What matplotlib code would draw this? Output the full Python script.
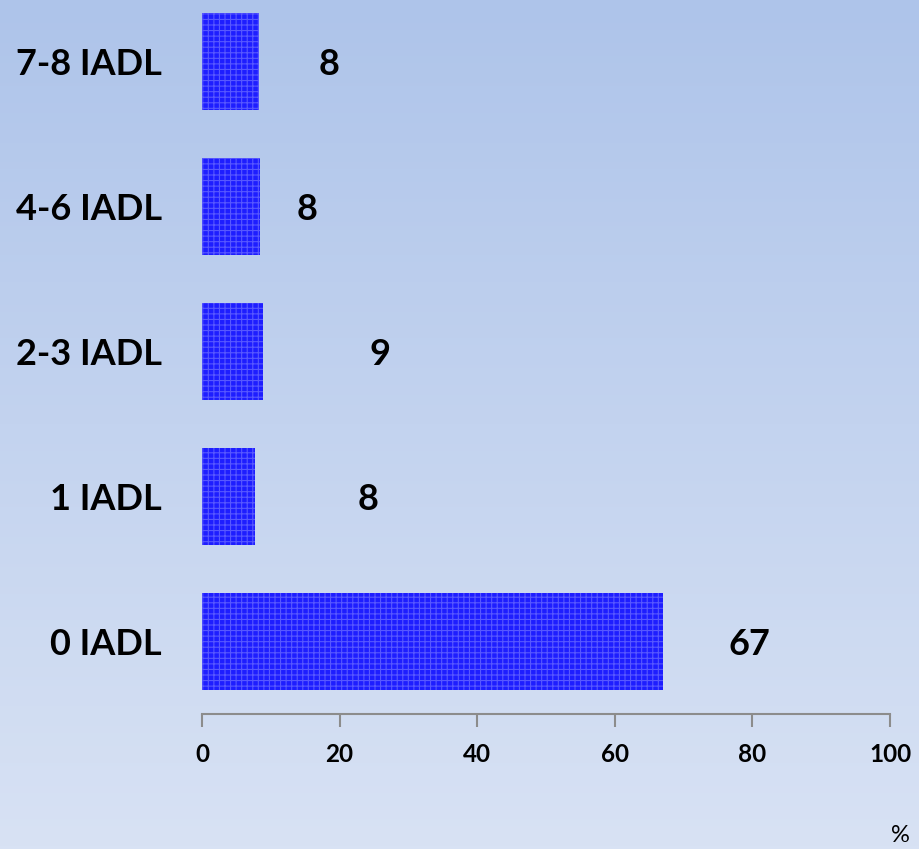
import numpy as np
import matplotlib
matplotlib.use("Agg")
import matplotlib.pyplot as plt

# ── Data ──────────────────────────────────────────────────────────────────────
categories = ["0 IADL", "1 IADL", "2-3 IADL", "4-6 IADL", "7-8 IADL"]
values     = [67.0, 7.7, 8.9, 8.5, 8.3]
labels     = ["67", "8", "9", "8", "8"]
x_ticks    = [0, 20, 40, 60, 80, 100]

# label offsets (data units, right of bar end) as placed in the original
label_dx   = [12.5, 16.5, 17.0, 6.8, 10.2]

plt.rcParams["font.family"] = ["Lato", "DejaVu Sans"]
plt.rcParams["hatch.linewidth"] = 0.8

W, H = 919, 849
fig = plt.figure(figsize=(W / 100, H / 100), dpi=100)

# background gradient
bg = fig.add_axes([0, 0, 1, 1], zorder=0)
top_c = np.array([0xae, 0xc4, 0xea]) / 255
bot_c = np.array([0xd8, 0xe2, 0xf4]) / 255
t = np.linspace(0, 1, 256)[:, None]
grad = (top_c[None, :] * (1 - t) + bot_c[None, :] * t)[:, None, :]
bg.imshow(grad, aspect="auto", extent=[0, 1, 0, 1], origin="upper")
bg.axis("off")

ax_l, ax_r, ax_b = 202 / W, 890 / W, (H - 714) / H
ax = fig.add_axes([ax_l, ax_b, ax_r - ax_l, 1 - ax_b], zorder=1)
ax.patch.set_alpha(0)

y = np.arange(len(categories))
ax.barh(y, values, height=0.67, color="#1e1eff", edgecolor="#5858ff",
        linewidth=0, hatch="+++")

for yi, v, lab, dx in zip(y, values, labels, label_dx):
    ax.text(v + dx, yi - 0.02, lab, ha="center", va="center",
            fontsize=26, fontweight="bold", color="black")

ax.set_xlim(0, 100)
ax.set_ylim(-0.5, -0.5 + 714 / 145)
ax.set_xticks(x_ticks)
ax.set_xticklabels([str(v) for v in x_ticks], fontsize=17.5, fontweight="bold")
ax.set_yticks(y)
ax.set_yticklabels(categories, fontsize=26, fontweight="bold")
ax.tick_params(axis="y", length=0, pad=29)
ax.tick_params(axis="x", length=9, width=1.5, color="#8c8c8c", pad=12,
               direction="out")

for s in ["top", "right", "left"]:
    ax.spines[s].set_visible(False)
ax.spines["bottom"].set_color("#8c8c8c")
ax.spines["bottom"].set_linewidth(1.5)

fig.text(900 / W, 1 - 836 / H, "%", ha="center", va="center", fontsize=17)

fig.savefig("out.png", dpi=100)
